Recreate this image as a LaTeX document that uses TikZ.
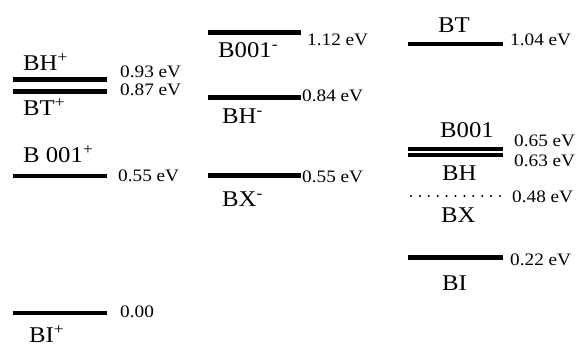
\documentclass[tikz,border=0pt]{standalone}
\usepackage{fontspec}
\setmainfont[FakeStretch=1.1]{Liberation Serif}
\begin{document}
\begin{tikzpicture}[x=1pt,y=-1pt,
  level/.style={line width=4.3pt},
  dotlevel/.style={line width=2.3pt,line cap=round,dash pattern=on 0pt off 8.9pt},
  lab/.style={anchor=base west,inner sep=0pt,font=\fontsize{22.5}{26}\selectfont},
  ev/.style={anchor=base west,inner sep=0pt,font=\fontsize{17.5}{20}\selectfont}]
\useasboundingbox (0,0) rectangle (576,346);
% column 1 (cations)
\draw[level] (13,79.5) -- (107,79.5);
\draw[level] (13,91.5) -- (107,91.5);
\draw[level] (13,176) -- (107,176);
\draw[level] (13,313) -- (107,313);
\node[lab] (bhp) at (23,70) {BH\textsuperscript{+}};
\node[lab] (btp) at (23,115) {BT\textsuperscript{+}};
\node[lab] (b001p) at (23,162) {B 001\textsuperscript{+}};
\node[lab] (bip) at (29,342) {BI\textsuperscript{+}};
\node[ev] (e093) at (120,77) {0.93 eV};
\node[ev] (e087) at (120,95) {0.87 eV};
\node[ev] (e055a) at (118,181) {0.55 eV};
\node[ev] (e000) at (120,317) {0.00};
% column 2 (anions)
\draw[level] (208,32.5) -- (301,32.5);
\draw[level] (208,97.5) -- (301,97.5);
\draw[level] (208,175.5) -- (301,175.5);
\node[lab] (b001m) at (218,57) {B001\textsuperscript{-}};
\node[lab] (bhm) at (222,123) {BH\textsuperscript{-}};
\node[lab] (bxm) at (222,206) {BX\textsuperscript{-}};
\node[ev] (e112) at (307,45) {1.12 eV};
\node[ev] (e084) at (302,101.5) {0.84 eV};
\node[ev] (e055b) at (302,182) {0.55 eV};
% column 3 (neutrals)
\draw[level] (408,44) -- (503,44);
\draw[level,line width=4pt] (408,148.5) -- (503,148.5);
\draw[level,line width=4pt] (408,155) -- (503,155);
\draw[dotlevel] (411,196) -- (500,196);
\draw[level] (408,257.5) -- (503,257.5);
\node[lab] (bt) at (438,32) {BT};
\node[lab] (b001) at (440,137) {B001};
\node[lab] (bh) at (442,180) {BH};
\node[lab] (bx) at (441,222) {BX};
\node[lab] (bi) at (442,290) {BI};
\node[ev] (e104) at (510,45) {1.04 eV};
\node[ev] (e065) at (514,146) {0.65 eV};
\node[ev] (e063) at (514,166) {0.63 eV};
\node[ev] (e048) at (512,202) {0.48 eV};
\node[ev] (e022) at (510,265) {0.22 eV};
\end{tikzpicture}
\end{document}
